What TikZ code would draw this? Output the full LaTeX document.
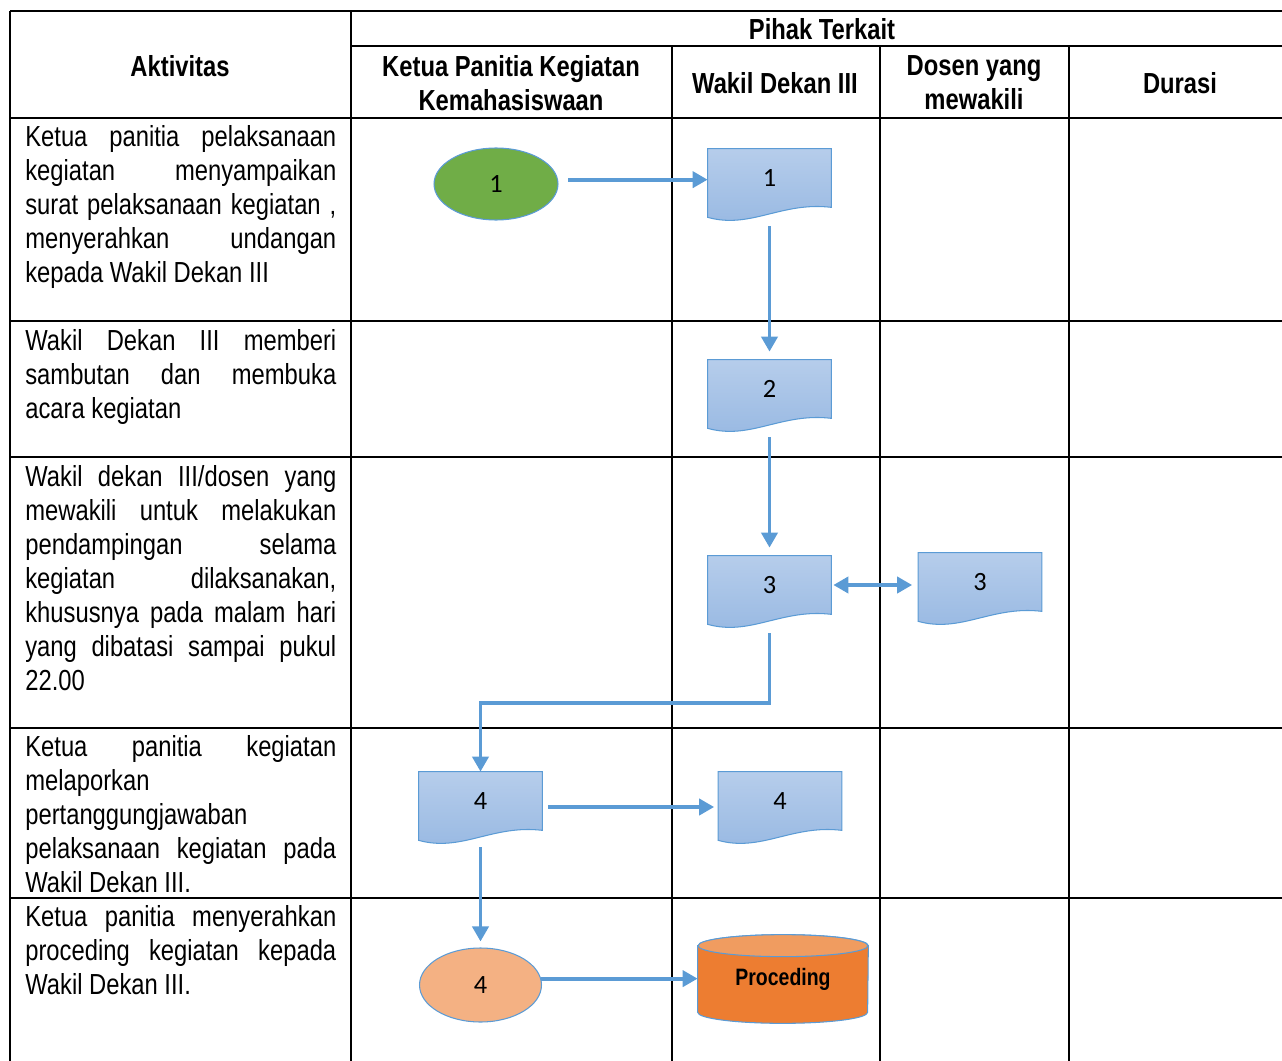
\documentclass[tikz,border=0pt]{standalone}
\usepackage{fontspec}
\setmainfont{Liberation Sans}[FakeStretch=0.82]
\newfontfamily\calib{Carlito}
\usetikzlibrary{shapes.geometric,arrows.meta,backgrounds,calc}
\definecolor{flowblue}{HTML}{5B9BD5}
\definecolor{docTop}{HTML}{B6CDEB}
\definecolor{docBot}{HTML}{97B8E2}
\definecolor{startgreen}{HTML}{70AD47}
\definecolor{peach}{HTML}{F4B183}
\definecolor{procorange}{HTML}{ED7D31}
\definecolor{proctop}{HTML}{F09C60}
\hyphenpenalty=10000
\tikzset{
  tabline/.style={line width=0.04cm},
  hdr/.style={font=\bfseries\fontsize{16.5}{19.35}\selectfont,align=center,inner sep=0pt},
  act/.style={anchor=north west,inner sep=0pt,text width=6.22cm,align=justify,
    font=\fontsize{16.5}{19.35}\selectfont},
  docbox/.style={minimum width=2.46cm,minimum height=1.16cm,inner sep=0pt,
    font=\calib\fontsize{15}{17}\selectfont},
  docline/.style={draw=flowblue,line width=0.6pt,top color=docTop,bottom color=docBot},
  startell/.style={ellipse,draw=flowblue,line width=0.6pt,minimum width=2.48cm,
    minimum height=1.44cm,inner sep=0pt,font=\calib\fontsize{15}{17}\selectfont},
  flow/.style={draw=flowblue,line width=0.075cm,-{Triangle[length=0.3cm,width=0.32cm]}},
}
\begin{document}
\begin{tikzpicture}[x=0.02cm,y=-0.02cm]
\useasboundingbox (0,0) rectangle (1282,1061);
% table
\draw[tabline] (10,11) -- (1282,11);
\draw[tabline] (351,46) -- (1282,46);
\foreach \y in {118,321,457,728,898} \draw[tabline] (10,\y) -- (1282,\y);
\foreach \x in {10,351} \draw[tabline] (\x,11) -- (\x,1061);
\foreach \x in {672,880,1069} \draw[tabline] (\x,46) -- (\x,1061);
% header
\node[hdr] (hpihak) at (822,29) {Pihak Terkait};
\node[hdr] (hakt) at (180,66) {Aktivitas};
\node[hdr] (hketua) at (511,83) {Ketua Panitia Kegiatan\\Kemahasiswaan};
\node[hdr] (hwakil) at (775,83) {Wakil Dekan III};
\node[hdr] (hdosen) at (974,83) {Dosen yang\\mewakili};
\node[hdr] (hdurasi) at (1180,83) {Durasi};
% activities
\node[act] (a1) at (25,125) {Ketua panitia pelaksanaan\linebreak kegiatan menyampaikan\linebreak
  surat pelaksanaan kegiatan ,\linebreak menyerahkan undangan\linebreak kepada Wakil Dekan III};
\node[act] (a2) at (25,329) {Wakil Dekan III memberi\linebreak sambutan dan membuka\linebreak acara kegiatan};
\node[act] (a3) at (25,465) {Wakil dekan III/dosen yang\linebreak mewakili untuk melakukan\linebreak
  pendampingan selama\linebreak kegiatan dilaksanakan,\linebreak khususnya pada malam hari\linebreak
  yang dibatasi sampai pukul\linebreak 22.00};
\node[act] (a4) at (25,735) {Ketua panitia kegiatan\linebreak melaporkan\linebreak
  pertanggungjawaban\linebreak pelaksanaan kegiatan pada\linebreak Wakil Dekan III.};
\node[act] (a5) at (25,905) {Ketua panitia menyerahkan\linebreak proceding kegiatan kepada\linebreak Wakil Dekan III.};
% flow shapes
\node[startell,fill=startgreen] (e1) at (496,184) {1};
\node[docbox] (d1) at (769.5,178) {1};
\node[docbox] (d2) at (769.5,389) {2};
\node[docbox] (d3) at (769.5,585) {3};
\node[docbox] (d3b) at (980,582) {3};
\node[docbox] (d4) at (480.5,801) {4};
\node[docbox] (d4b) at (780,801) {4};
\node[startell,fill=peach,minimum width=2.44cm,minimum height=1.48cm] (e4) at (480.5,985) {4};
\node[minimum width=3.4cm,minimum height=1.32cm,inner sep=0pt,
  font=\bfseries\fontsize{13.5}{16}\selectfont] (pr) at (783,979) {Proceding};
\begin{scope}[on background layer]
\foreach \d in {d1,d2,d3,d3b,d4,d4b}
  \draw[docline] (\d.north west) -- (\d.north east) -- (\d.south east)
    .. controls ($(\d.south east)+(-50,-6)$) and ($(\d.south west)+(43,22)$) .. ($(\d.south west)+(0,10)$) -- cycle;
\draw[draw=flowblue,line width=0.6pt,fill=procorange] (pr.north west) -- (pr.south west)
  arc[start angle=180,end angle=360,x radius=1.7cm,y radius=0.22cm] -- (pr.north east)
  arc[start angle=0,end angle=180,x radius=1.7cm,y radius=0.22cm] -- cycle;
\draw[draw=flowblue,line width=0.6pt,fill=proctop] (pr.north) ellipse[x radius=1.7cm,y radius=0.22cm];
\end{scope}
% connectors
\draw[flow,shorten <=0.2cm] (e1.4) -- (e1.4 -| d1.west);
\draw[flow,shorten <=0.38cm,shorten >=0.16cm] (d1.south) -- (d2.north);
\draw[flow,shorten <=0.38cm,shorten >=0.16cm] (d2.south) -- (d3.north);
\draw[flow,{Triangle[length=0.3cm,width=0.32cm]}-{Triangle[length=0.3cm,width=0.32cm]},shorten <=0.04cm,shorten >=0.12cm]
  (d3.east) -- (d3.east -| d3b.west);
\draw[flow,shorten <=0.38cm] (d3.south) -- ++(0,89) -| (d4.north);
\draw[flow,shorten <=0.12cm,shorten >=0.08cm] ($(d4.east)+(0,6)$) -- ($(d4.east -| d4b.west)+(0,6)$);
\draw[flow,shorten <=0.34cm,shorten >=0.12cm] (d4.south) -- (e4.north);
\draw[flow] (e4.6) -- (e4.6 -| pr.west);
\end{tikzpicture}
\end{document}
